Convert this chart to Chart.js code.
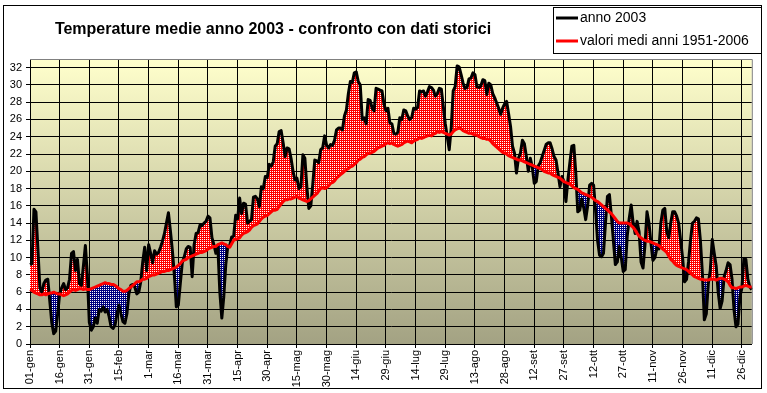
<!DOCTYPE html>
<html>
<head>
<meta charset="utf-8">
<title>Temperature medie anno 2003</title>
<script src="https://cdn.jsdelivr.net/npm/chart.js@4/dist/chart.umd.min.js"></script>
<style>
    html, body { margin: 0; padding: 0; background: #fff; }
    #chart { display: block; }
</style>
</head>
<body>
<canvas id="chart" width="767" height="393"></canvas>
<script>
// Tick labels, one every 15 days (the table has 366 rows, 29 Feb included)
const tickLabels = ['01-gen', '16-gen', '31-gen', '15-feb', '1-mar', '16-mar', '31-mar', '15-apr',
    '30-apr', '15-mag', '30-mag', '14-giu', '29-giu', '14-lug', '29-lug', '13-ago', '28-ago',
    '12-set', '27-set', '12-ott', '27-ott', '11-nov', '26-nov', '11-dic', '26-dic'];

const yTicks = [0, 2, 4, 6, 8, 10, 12, 14, 16, 18, 20, 22, 24, 26, 28, 30, 32];

// Daily mean temperature, year 2003
const temp2003 = [
    9.2, 9.3, 15.6, 15.3, 11.0, 6.5, 6.0, 7.0, 7.4, 7.5, 5.0, 2.5, 1.2, 1.5, 3.5,
    5.8, 6.5, 7.0, 6.3, 6.5, 7.5, 10.5, 10.7, 8.5, 9.8, 7.0, 6.8, 9.0, 11.4, 8.0,
    2.5, 1.6, 2.0, 3.0, 2.4, 4.0, 3.8, 4.3, 3.7, 4.0, 3.2, 2.0, 1.8, 2.2, 3.5,
    4.5, 3.5, 2.6, 2.4, 3.5, 5.8, 6.8, 6.9, 6.6, 5.8, 6.0, 7.2, 9.5, 11.2, 8.5,
    11.5, 10.5, 9.4, 10.8, 10.4, 10.6, 11.2, 11.9, 12.8, 14.0, 15.2, 13.1, 10.8, 8.0, 4.3,
    4.5, 7.0, 9.4, 10.1, 11.0, 11.3, 11.2, 7.8, 11.5, 12.8, 12.9, 13.8, 13.7, 14.0, 14.2,
    14.8, 14.6, 12.3, 11.5, 10.5, 11.2, 6.0, 3.0, 5.5, 9.2, 11.3, 11.4, 12.4, 12.5, 14.9,
    14.5, 16.9, 15.1, 16.3, 16.2, 14.0, 14.2, 14.4, 17.0, 17.1, 16.8, 15.9, 18.2, 18.0, 19.4,
    19.3, 20.8, 20.6, 21.1, 22.9, 23.2, 24.6, 24.7, 23.3, 21.7, 22.7, 22.6, 21.5, 20.0, 19.0,
    19.2, 18.0, 18.2, 21.9, 21.5, 18.2, 15.7, 16.0, 18.5, 21.3, 21.2, 21.0, 22.5, 22.7, 24.1,
    23.0, 22.7, 23.1, 23.0, 23.6, 24.8, 25.0, 25.0, 24.8, 26.4, 27.1, 29.0, 30.4, 30.3, 31.4,
    31.5, 30.4, 30.0, 26.0, 26.2, 25.5, 28.3, 28.2, 27.3, 27.0, 29.6, 29.5, 29.4, 29.3, 27.8,
    27.0, 27.3, 25.6, 25.5, 24.4, 24.3, 24.5, 26.2, 26.0, 27.1, 27.0, 26.4, 26.0, 26.2, 27.3,
    27.2, 27.4, 29.3, 29.2, 29.3, 28.7, 29.2, 29.8, 29.7, 29.4, 28.7, 29.0, 29.6, 29.5, 27.5,
    25.5, 24.0, 22.5, 25.0, 29.3, 29.8, 32.2, 32.1, 31.2, 30.2, 29.6, 29.7, 30.7, 30.8, 31.4,
    31.2, 29.8, 29.7, 29.9, 30.6, 30.5, 28.9, 30.2, 30.0, 29.0, 28.5, 27.9, 27.3, 26.6, 27.3,
    27.8, 28.1, 26.7, 25.2, 22.9, 22.1, 19.8, 21.5, 22.1, 23.6, 23.2, 21.7, 20.0, 21.5, 20.5,
    18.6, 18.8, 20.6, 21.0, 21.7, 22.4, 23.1, 23.3, 23.3, 22.6, 21.7, 21.3, 19.8, 18.2, 19.4,
    18.8, 16.5, 19.0, 21.0, 22.9, 23.0, 19.8, 15.3, 15.5, 16.8, 15.8, 14.4, 16.0, 18.4, 18.6,
    18.4, 15.5, 12.0, 10.3, 10.1, 10.5, 14.0, 17.1, 17.3, 14.8, 12.0, 9.2, 9.5, 11.3, 10.0,
    8.4, 8.6, 12.5, 14.5, 16.1, 14.0, 12.8, 14.2, 13.0, 9.5, 8.8, 11.5, 15.3, 14.0, 11.7,
    9.7, 10.0, 11.1, 11.0, 14.0, 15.5, 15.7, 13.0, 12.3, 14.0, 15.3, 15.3, 14.8, 14.0, 12.0,
    10.0, 7.2, 7.5, 9.5, 12.0, 14.0, 14.2, 14.6, 14.5, 12.0, 8.2, 2.8, 3.5, 7.0, 8.5,
    12.1, 10.5, 9.0, 6.0, 4.1, 5.0, 7.8, 8.5, 9.4, 9.2, 7.5, 4.0, 2.0, 2.3, 5.5,
    6.5, 9.9, 9.8, 7.5, 6.6, 6.3
];

// Daily mean values 1951-2006
const tempMedia = [
    6.3, 6.2, 6.0, 5.9, 5.8, 5.7, 5.7, 5.8, 5.7, 5.8, 5.9, 5.9, 6.0, 5.9, 5.8,
    5.8, 5.7, 5.6, 5.7, 5.8, 6.0, 6.2, 6.3, 6.2, 6.3, 6.4, 6.4, 6.3, 6.4, 6.3,
    6.3, 6.4, 6.5, 6.6, 6.7, 6.8, 6.9, 7.0, 7.1, 7.0, 7.0, 6.9, 6.9, 6.8, 6.6,
    6.4, 6.3, 6.1, 6.1, 6.2, 6.4, 6.6, 6.8, 7.0, 7.2, 7.2, 7.3, 7.5, 7.5, 7.6,
    7.8, 7.9, 8.0, 8.0, 8.1, 8.2, 8.3, 8.4, 8.4, 8.5, 8.5, 8.6, 8.7, 8.8, 8.9,
    9.1, 9.3, 9.6, 9.7, 9.8, 10.0, 10.1, 10.2, 10.3, 10.4, 10.5, 10.6, 10.6, 10.7, 10.8,
    11.0, 11.1, 11.2, 11.3, 11.3, 11.5, 11.6, 11.7, 11.6, 11.5, 11.3, 11.2, 11.6, 12.0, 12.1,
    12.2, 12.3, 12.6, 12.8, 12.9, 13.0, 13.2, 13.5, 13.7, 13.8, 13.9, 14.2, 14.5, 14.7, 14.8,
    14.9, 15.1, 15.3, 15.5, 15.5, 15.6, 15.9, 16.2, 16.5, 16.7, 16.7, 16.8, 16.8, 16.9, 17.0,
    17.1, 16.9, 16.8, 16.7, 16.6, 16.5, 16.6, 16.8, 17.0, 17.2, 17.4, 17.7, 18.0, 18.1, 18.0,
    18.1, 18.3, 18.6, 18.7, 18.9, 19.2, 19.4, 19.6, 19.8, 20.0, 20.2, 20.3, 20.5, 20.6, 20.8,
    21.0, 21.3, 21.4, 21.6, 21.7, 21.9, 22.1, 22.1, 22.2, 22.3, 22.5, 22.7, 22.8, 22.9, 23.0,
    23.2, 23.3, 23.2, 23.3, 23.1, 23.0, 22.9, 23.0, 23.1, 23.3, 23.4, 23.5, 23.4, 23.3, 23.5,
    23.6, 23.7, 23.9, 23.8, 23.9, 24.0, 24.1, 24.2, 24.1, 24.3, 24.4, 24.6, 24.5, 24.6, 24.5,
    24.4, 24.3, 24.2, 24.3, 24.6, 24.8, 24.9, 25.0, 24.9, 24.7, 24.6, 24.5, 24.4, 24.4, 24.3,
    24.2, 24.2, 24.0, 23.9, 23.8, 23.8, 23.7, 23.7, 23.5, 23.2, 23.0, 22.8, 22.6, 22.4, 22.2,
    22.1, 22.0, 21.8, 21.7, 21.6, 21.5, 21.4, 21.3, 21.3, 21.2, 21.1, 21.0, 20.9, 20.8, 20.7,
    20.6, 20.5, 20.4, 20.3, 20.2, 20.0, 19.9, 19.8, 19.8, 19.6, 19.5, 19.4, 19.3, 19.2, 19.0,
    18.8, 18.7, 18.6, 18.5, 18.3, 18.1, 18.0, 17.9, 17.7, 17.5, 17.4, 17.3, 17.2, 17.1, 17.0,
    16.8, 16.6, 16.5, 16.3, 16.1, 15.9, 15.7, 15.5, 15.3, 15.1, 14.8, 14.5, 14.2, 14.0, 14.0,
    14.0, 14.0, 14.0, 13.9, 13.7, 13.5, 13.2, 12.8, 12.5, 12.3, 12.1, 12.0, 11.9, 11.9, 11.8,
    11.7, 11.6, 11.5, 11.4, 11.2, 11.0, 10.8, 10.6, 10.2, 9.8, 9.6, 9.3, 9.1, 9.0, 8.9,
    8.8, 8.7, 8.6, 8.4, 8.2, 8.0, 7.8, 7.7, 7.6, 7.5, 7.5, 7.4, 7.4, 7.4, 7.5,
    7.5, 7.5, 7.4, 7.5, 7.6, 7.6, 7.5, 7.4, 7.2, 6.8, 6.5, 6.5, 6.4, 6.5, 6.6,
    6.6, 6.7, 6.8, 6.7, 6.6, 6.6
];

const dayIndex = temp2003.map((_, i) => i);

const warmColor = '#ff0000';
const coldColor = '#000080';
const fontFamily = '"Liberation Sans", Arial, sans-serif';

// background gradient behind the plot
const plotBackground = {
    id: 'plotBackground',
    beforeDraw(chart) {
        const { ctx, chartArea: a } = chart;
        ctx.save();
        ctx.fillStyle = '#ffffff';
        ctx.fillRect(0, 0, chart.width, chart.height);
        const grad = ctx.createLinearGradient(0, a.top, 0, a.bottom);
        grad.addColorStop(0, '#ffffcc');
        grad.addColorStop(1, '#a3a283');
        ctx.fillStyle = grad;
        ctx.fillRect(a.left, a.top, a.right - a.left, a.bottom - a.top);
        ctx.restore();
    }
};

// white dot texture on the filled areas (runs right after the filler)
const dotTexture = {
    id: 'dotTexture',
    beforeDatasetsDraw(chart) {
        const { ctx, chartArea: a } = chart;
        const x0 = Math.floor(a.left);
        const y0 = Math.floor(a.top);
        const w = Math.ceil(a.right) - x0 + 1;
        const h = Math.ceil(a.bottom) - y0;
        const img = ctx.getImageData(x0, y0, w, h);
        const d = img.data;
        for (let y = 0; y < h; y += 2) {
            for (let x = 0; x < w; x += 2) {
                const k = (y * w + x) * 4;
                const warm = d[k] === 255 && d[k + 1] === 0 && d[k + 2] === 0;
                const cold = d[k] === 0 && d[k + 1] === 0 && d[k + 2] === 128;
                if (warm || cold) {
                    d[k] = d[k + 1] = d[k + 2] = 255;
                }
            }
        }
        ctx.putImageData(img, x0, y0);
    }
};

// frame, title and legend
const decorations = {
    id: 'decorations',
    afterDraw(chart) {
        const { ctx, chartArea: a } = chart;
        ctx.save();

        ctx.strokeStyle = '#808080';
        ctx.lineWidth = 1;
        ctx.beginPath();
        ctx.moveTo(a.left, a.top + 0.5);
        ctx.lineTo(a.right + 0.5, a.top + 0.5);
        ctx.lineTo(a.right + 0.5, a.bottom);
        ctx.stroke();

        ctx.strokeStyle = '#000000';
        ctx.strokeRect(3.5, 5.5, 758, 383);

        ctx.fillStyle = '#000000';
        ctx.font = 'bold 16px ' + fontFamily;
        ctx.textAlign = 'center';
        ctx.textBaseline = 'middle';
        ctx.fillText('Temperature medie anno 2003 - confronto con dati storici', 273, 30);

        ctx.fillStyle = '#ffffff';
        ctx.fillRect(553.5, 7.5, 208, 46);
        ctx.strokeStyle = '#000000';
        ctx.strokeRect(553.5, 7.5, 208, 46);

        const items = [
            { text: 'anno 2003', color: '#000000', y: 18 },
            { text: 'valori medi anni 1951-2006', color: warmColor, y: 41 }
        ];
        ctx.font = '14px ' + fontFamily;
        ctx.textAlign = 'left';
        items.forEach(item => {
            ctx.strokeStyle = item.color;
            ctx.lineWidth = 3;
            ctx.beginPath();
            ctx.moveTo(556, item.y);
            ctx.lineTo(578, item.y);
            ctx.stroke();
            ctx.fillStyle = '#000000';
            ctx.fillText(item.text, 580, item.y);
        });

        ctx.restore();
    }
};

const chartCtx = document.getElementById('chart').getContext('2d', { willReadFrequently: true });
new Chart(chartCtx, {
    type: 'line',
    data: {
        labels: dayIndex,
        datasets: [
            {
                label: 'anno 2003',
                data: temp2003,
                borderColor: '#000000',
                backgroundColor: warmColor,
                borderWidth: 3,
                borderJoinStyle: 'round',
                pointRadius: 0,
                tension: 0,
                order: 1,
                fill: { target: 1, above: warmColor, below: coldColor }
            },
            {
                label: 'valori medi anni 1951-2006',
                data: tempMedia,
                borderColor: warmColor,
                backgroundColor: warmColor,
                borderWidth: 3,
                borderJoinStyle: 'round',
                pointRadius: 0,
                tension: 0,
                order: 0,
                fill: false
            }
        ]
    },
    options: {
        responsive: false,
        animation: false,
        events: [],
        layout: { padding: { left: 0, right: 11, top: 59, bottom: 0 } },
        plugins: {
            colors: { enabled: false },
            legend: { display: false },
            title: { display: false },
            tooltip: { enabled: false },
            filler: { drawTime: 'beforeDatasetsDraw' }
        },
        scales: {
            x: {
                type: 'category',
                offset: false,
                grid: {
                    color: c => (c.index % 15 === 0 ? '#000000' : 'transparent'),
                    lineWidth: 1,
                    tickLength: 4,
                    offset: false
                },
                border: { color: '#000000', width: 1 },
                ticks: {
                    autoSkip: false,
                    minRotation: 90,
                    maxRotation: 90,
                    padding: 2,
                    color: '#000000',
                    font: { family: fontFamily, size: 11 },
                    callback: (value, index) => (index % 15 === 0 ? tickLabels[index / 15] : '')
                },
                afterFit: scale => { scale.height = 49; }
            },
            y: {
                min: 0,
                max: 33,
                bounds: 'data',
                grid: { color: '#000000', lineWidth: 1, tickLength: 4 },
                border: { color: '#000000', width: 1 },
                ticks: {
                    padding: 4,
                    color: '#000000',
                    font: { family: fontFamily, size: 11 }
                },
                afterBuildTicks: scale => { scale.ticks = yTicks.map(v => ({ value: v })); },
                afterFit: scale => { scale.width = 30; }
            }
        }
    },
    plugins: [plotBackground, dotTexture, decorations]
});
</script>
</body>
</html>
